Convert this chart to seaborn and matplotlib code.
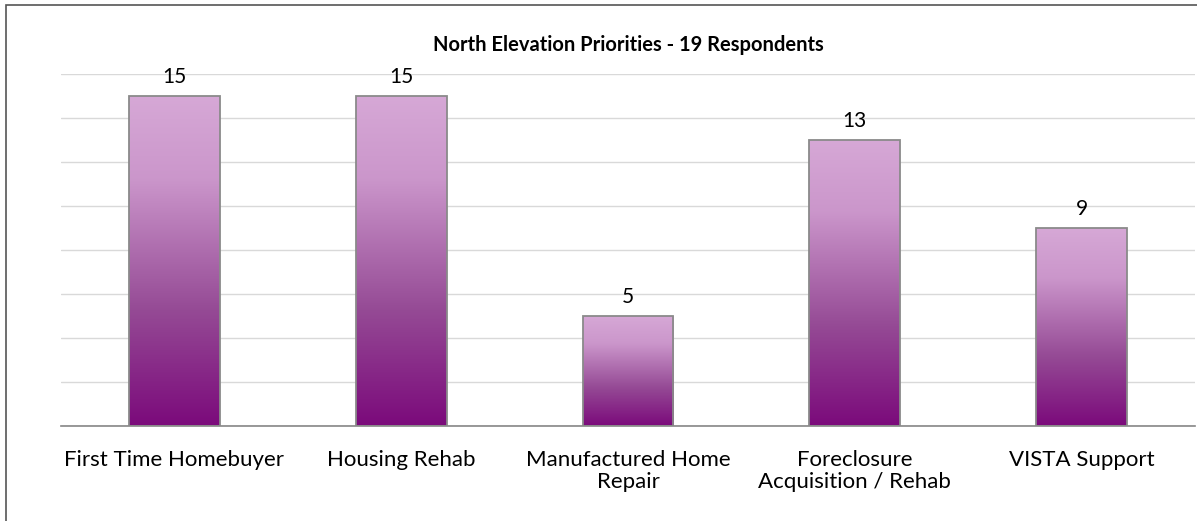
import matplotlib
matplotlib.use("Agg")
import matplotlib.pyplot as plt
import matplotlib.patches as mpatches
from matplotlib.colors import LinearSegmentedColormap
import numpy as np
import pandas as pd
import seaborn as sns

categories = ["First Time Homebuyer", "Housing Rehab", "Manufactured Home\nRepair",
              "Foreclosure\nAcquisition / Rehab", "VISTA Support"]
counts = [15, 15, 5, 13, 9]
title = "North Elevation Priorities - 19 Respondents"

df = pd.DataFrame({"priority": categories, "count": counts})

sns.set_style("white")
plt.rcParams["font.family"] = ["Lato", "DejaVu Sans"]
plt.rcParams["text.color"] = "black"
plt.rcParams["xtick.color"] = "black"

fig = plt.figure(figsize=(11.97, 5.21), dpi=100)
ax = fig.add_axes([61 / 1197, 95 / 521, 1134 / 1197, 352 / 521])

sns.barplot(data=df, x="priority", y="count", ax=ax, width=0.4, color="#d4a6d4")

# purple gradient inside each bar, dark at bottom
grad_cmap = LinearSegmentedColormap.from_list(
    "purp", [(0, "#7b0a7b"), (0.35, "#954a95"), (0.75, "#cb96cb"), (1, "#d6a8d6")])
grad = np.linspace(1, 0, 256).reshape(-1, 1)
for p in ax.patches:
    x0, y0 = p.get_x(), p.get_y()
    w, h = p.get_width(), p.get_height()
    im = ax.imshow(grad, cmap=grad_cmap, aspect="auto", extent=[x0, x0 + w, y0, y0 + h],
                   zorder=2, vmin=0, vmax=1)
    im.set_clip_path(p)
    p.set_facecolor("none")
    p.set_edgecolor("#8a8a8a")
    p.set_linewidth(1.3)
    p.set_zorder(3)
    ax.text(x0 + w / 2, h + 0.4, f"{int(h)}", ha="center", va="bottom", fontsize=15)

ax.set_xlim(-0.5, len(categories) - 0.5)
ax.set_ylim(0, 16)
ax.set_yticks(np.arange(0, 17, 2))
ax.set_yticklabels([])
ax.tick_params(axis="y", length=0)
ax.yaxis.grid(True, color="#d9d9d9", linewidth=1)
ax.set_axisbelow(True)

ax.set_xticks(np.arange(-0.5, len(categories), 1))
ax.set_xticklabels([])
ax.set_xticks(np.arange(len(categories)), minor=True)
ax.set_xticklabels(categories, minor=True, fontsize=16, linespacing=1.15)
ax.tick_params(axis="x", which="major", length=6, color="#868686", width=1)
ax.tick_params(axis="x", which="minor", length=0, pad=17)
ax.set_xlabel("")
ax.set_ylabel("")

for s in ["top", "right", "left"]:
    ax.spines[s].set_visible(False)
ax.spines["bottom"].set_color("#868686")
ax.spines["bottom"].set_linewidth(1.2)

fig.text(628 / 1197, 1 - 45 / 521, title, ha="center", va="center",
         fontsize=14.5, fontweight="bold")

# chart frame (cut at right and bottom)
frame = mpatches.Rectangle((6 / 1197, -0.05), 1.2, 1 - 5 / 521 + 0.05, transform=fig.transFigure,
                           fill=False, edgecolor="#555555", linewidth=1.2)
fig.patches.append(frame)

fig.savefig("out.png", dpi=100)
